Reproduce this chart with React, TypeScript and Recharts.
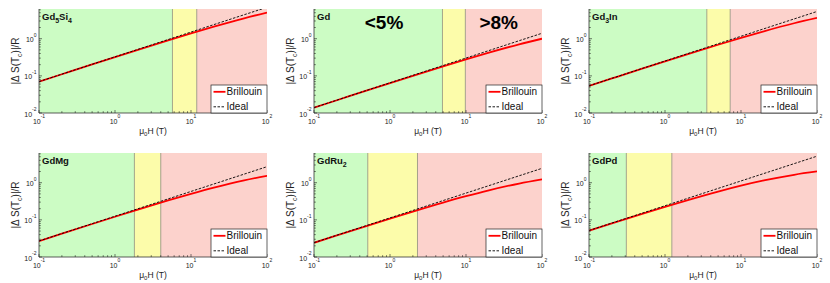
import React from 'react';
import { LineChart, Line, XAxis, YAxis, ReferenceArea, ReferenceLine } from 'recharts';

// ---------- data ----------
const fieldT = [0.1, 0.2, 0.5, 1, 2, 5, 10, 20, 50, 100];

const gd5si4Brillouin = [0.0697, 0.1104, 0.2025, 0.3193, 0.5016, 0.9031, 1.393, 2.116, 3.549, 5.054];
const gd5si4Ideal = [0.07, 0.1111, 0.2048, 0.325, 0.5158, 0.9503, 1.509, 2.395, 4.41, 7.0];
const gd5si4Bands = [5.7, 11.9];

const gdBrillouin = [0.01394, 0.02206, 0.04052, 0.06381, 0.1002, 0.1803, 0.2777, 0.4212, 0.7044, 0.9997];
const gdIdeal = [0.014, 0.0222, 0.041, 0.065, 0.1032, 0.1901, 0.3017, 0.4789, 0.8821, 1.4];
const gdBands = [4.9, 9.8];

const gd3inBrillouin = [0.05374, 0.08504, 0.1557, 0.2452, 0.3841, 0.6877, 1.0534, 1.584, 2.605, 3.634];
const gd3inIdeal = [0.054, 0.0857, 0.1579, 0.2507, 0.3979, 0.7331, 1.1637, 1.8472, 3.402, 5.4];
const gd3inBands = [3.55, 7.2];

const gdmgBrillouin = [0.02679, 0.04234, 0.07723, 0.1211, 0.1884, 0.3323, 0.5002, 0.7336, 1.1519, 1.5373];
const gdmgIdeal = [0.02699, 0.04285, 0.07894, 0.1253, 0.1989, 0.3664, 0.5816, 0.9232, 1.7003, 2.699];
const gdmgBands = [1.8, 4.0];

const gdru2Brillouin = [0.02411, 0.03806, 0.06922, 0.1081, 0.1673, 0.2918, 0.4335, 0.6246, 0.9504, 1.2333];
const gdru2Ideal = [0.02434, 0.03865, 0.07119, 0.113, 0.1793, 0.3304, 0.5245, 0.8326, 1.5334, 2.434];
const gdru2Bands = [0.51, 2.3];

const gdpdBrillouin = [0.0509, 0.08008, 0.14453, 0.22363, 0.34125, 0.5781, 0.8315, 1.1488, 1.6339, 2.0063];
const gdpdIdeal = [0.0517, 0.08208, 0.1512, 0.24, 0.3809, 0.7018, 1.1141, 1.7683, 3.2568, 5.17];
const gdpdBands = [0.31, 1.23];

const xTicks = [0.1, 0.2, 0.3, 0.4, 0.5, 0.6, 0.7, 0.8, 0.9, 1, 2, 3, 4, 5, 6, 7, 8, 9, 10, 20, 30, 40, 50, 60, 70, 80, 90, 100];
const yTicks = [0.01, 0.02, 0.03, 0.04, 0.05, 0.06, 0.07, 0.08, 0.09, 0.1, 0.2, 0.3, 0.4, 0.5, 0.6, 0.7, 0.8, 0.9, 1, 2, 3, 4, 5, 6];
const xMajor = [0.1, 1, 10, 100];
const xMajorLabels = ['-1', '0', '1', '2'];
const yMajor = [0.01, 0.1, 1];
const yMajorLabels = ['-2', '-1', '0'];
const xDomain = [0.1, 100];
const yDomain = [0.01, 6.3];

const seriesNames = ['Brillouin', 'Ideal'];

// ---------- layout ----------
const FONT = '"Liberation Sans", Arial, Helvetica, sans-serif';
const colChartLeft = [0, 275, 550];
const colChartWidth = [275, 275, 280];
const colPlotLeft = [39, 314, 589];
const colPlotRight = [267, 542, 817];
const rowChartTop = [0, 141];
const rowChartHeight = [141, 142];
const rowPlotTop = [9, 153];
const rowPlotBottom = [113, 257];

type Part = { t: string; sub?: boolean };

const panels: { name: Part[]; b: number[]; i: number[]; bands: number[]; row: number; col: number }[] = [
  { name: [{ t: 'Gd' }, { t: '5', sub: true }, { t: 'Si' }, { t: '4', sub: true }], b: gd5si4Brillouin, i: gd5si4Ideal, bands: gd5si4Bands, row: 0, col: 0 },
  { name: [{ t: 'Gd' }], b: gdBrillouin, i: gdIdeal, bands: gdBands, row: 0, col: 1 },
  { name: [{ t: 'Gd' }, { t: '3', sub: true }, { t: 'In' }], b: gd3inBrillouin, i: gd3inIdeal, bands: gd3inBands, row: 0, col: 2 },
  { name: [{ t: 'GdMg' }], b: gdmgBrillouin, i: gdmgIdeal, bands: gdmgBands, row: 1, col: 0 },
  { name: [{ t: 'GdRu' }, { t: '2', sub: true }], b: gdru2Brillouin, i: gdru2Ideal, bands: gdru2Bands, row: 1, col: 1 },
  { name: [{ t: 'GdPd' }], b: gdpdBrillouin, i: gdpdIdeal, bands: gdpdBands, row: 1, col: 2 },
];

const TICK_COLOR = '#222';

const BottomTick = (props: any) => {
  const { x, y, payload } = props;
  const idx = xMajor.indexOf(payload.value);
  const major = idx >= 0;
  return (
    <g>
      <line x1={x} x2={x} y1={y} y2={y - (major ? 3 : 1.8)} stroke={TICK_COLOR} strokeWidth={0.6} />
      {major && (
        <text x={x} y={y + 10.5} textAnchor="middle" fontSize={7} fill={TICK_COLOR} fontFamily={FONT}>
          10<tspan dy={-5.5} fontSize={5}>{xMajorLabels[idx]}</tspan>
        </text>
      )}
    </g>
  );
};

const TopTick = (props: any) => {
  const { x, y, payload } = props;
  const major = xMajor.indexOf(payload.value) >= 0;
  return <line x1={x} x2={x} y1={y} y2={y + (major ? 3 : 1.8)} stroke={TICK_COLOR} strokeWidth={0.6} />;
};

const LeftTick = (props: any) => {
  const { x, y, payload } = props;
  const idx = yMajor.indexOf(payload.value);
  const major = idx >= 0;
  return (
    <g>
      <line x1={x} x2={x + (major ? 3 : 1.8)} y1={y} y2={y} stroke={TICK_COLOR} strokeWidth={0.6} />
      {major && (
        <text x={x - 2.5} y={y + 3.5} textAnchor="end" fontSize={7} fill={TICK_COLOR} fontFamily={FONT}>
          10<tspan dy={-5.5} fontSize={5}>{yMajorLabels[idx]}</tspan>
        </text>
      )}
    </g>
  );
};

const RightTick = (props: any) => {
  const { x, y, payload } = props;
  const major = yMajor.indexOf(payload.value) >= 0;
  return <line x1={x} x2={x - (major ? 3 : 1.8)} y1={y} y2={y} stroke={TICK_COLOR} strokeWidth={0.6} />;
};

const GREEN = '#ccfcc4';
const YELLOW = '#fcfcaa';
const PINK = '#fcd2cc';
const BAND_EDGE = '#8f8f7a';

function Panel({ p }: { p: (typeof panels)[number] }) {
  const data = fieldT.map((h, k) => ({ h, brillouin: p.b[k], ideal: p.i[k] }));
  const left = colChartLeft[p.col];
  const width = colChartWidth[p.col];
  const top = rowChartTop[p.row];
  const height = rowChartHeight[p.row];
  const mt = rowPlotTop[p.row] - top;
  const mr = left + width - colPlotRight[p.col];
  const xh = top + height - rowPlotBottom[p.row];
  const axisLine = { stroke: '#333', strokeWidth: 0.8 };
  return (
    <div style={{ position: 'absolute', left, top, width, height }}>
      <LineChart width={width} height={height} data={data} margin={{ top: mt, right: mr, bottom: 0, left: 0 }}>
        <XAxis xAxisId="b" dataKey="h" type="number" scale="log" domain={xDomain} allowDataOverflow ticks={xTicks}
          interval={0} tickSize={0} tickMargin={0} tickLine={false} tick={<BottomTick />} axisLine={axisLine} height={xh} orientation="bottom" />
        <XAxis xAxisId="t" dataKey="h" type="number" scale="log" domain={xDomain} allowDataOverflow ticks={xTicks}
          interval={0} tickSize={0} tickMargin={0} tickLine={false} tick={<TopTick />} axisLine={axisLine} height={0} orientation="top" />
        <YAxis yAxisId="l" type="number" scale="log" domain={yDomain} allowDataOverflow ticks={yTicks}
          interval={0} tickSize={0} tickMargin={0} tickLine={false} tick={<LeftTick />} axisLine={axisLine} width={39} orientation="left" />
        <YAxis yAxisId="r" type="number" scale="log" domain={yDomain} allowDataOverflow ticks={yTicks}
          interval={0} tickSize={0} tickMargin={0} tickLine={false} tick={<RightTick />} axisLine={axisLine} width={0} orientation="right" />
        <ReferenceArea xAxisId="b" yAxisId="l" x1={xDomain[0]} x2={p.bands[0]} fill={GREEN} fillOpacity={1} stroke="none" ifOverflow="hidden" />
        <ReferenceArea xAxisId="b" yAxisId="l" x1={p.bands[0]} x2={p.bands[1]} fill={YELLOW} fillOpacity={1} stroke="none" ifOverflow="hidden" />
        <ReferenceArea xAxisId="b" yAxisId="l" x1={p.bands[1]} x2={xDomain[1]} fill={PINK} fillOpacity={1} stroke="none" ifOverflow="hidden" />
        <ReferenceLine xAxisId="b" yAxisId="l" x={p.bands[0]} stroke={BAND_EDGE} strokeWidth={0.8} />
        <ReferenceLine xAxisId="b" yAxisId="l" x={p.bands[1]} stroke={BAND_EDGE} strokeWidth={0.8} />
        <Line xAxisId="b" yAxisId="l" dataKey="brillouin" name={seriesNames[0]} type="monotone" stroke="#ff0000" strokeWidth={1.8} dot={false} isAnimationActive={false} />
        <Line xAxisId="b" yAxisId="l" dataKey="ideal" name={seriesNames[1]} type="linear" stroke="#000" strokeWidth={0.9} strokeDasharray="2.5 1.5" dot={false} isAnimationActive={false} />
      </LineChart>
    </div>
  );
}

function Overlay() {
  return (
    <svg width={830} height={283} style={{ position: 'absolute', left: 0, top: 0, pointerEvents: 'none' }} fontFamily={FONT}>
      {panels.map((p, k) => {
        const pl = colPlotLeft[p.col];
        const pr = colPlotRight[p.col];
        const pt = rowPlotTop[p.row];
        const pb = rowPlotBottom[p.row];
        const cy = (pt + pb) / 2;
        const lx = pr - 56;
        const ly = pb - 28;
        return (
          <g key={k}>
            <text x={pl + 3} y={pt + 11} fontSize={9.5} fontWeight="bold" fill="#111">
              {p.name.map((s, j) => (
                <tspan key={j} fontSize={s.sub ? 7 : 9.5} dy={s.sub ? 2.5 : j > 0 && p.name[j - 1].sub ? -2.5 : 0}>{s.t}</tspan>
              ))}
            </text>
            <text transform={`translate(${pl - 20},${cy}) rotate(-90)`} textAnchor="middle" fontSize={10} fill="#222">
              |Δ S(T<tspan fontSize={7} dy={2.5}>c</tspan><tspan dy={-2.5}>)|/R</tspan>
            </text>
            <text x={(pl + pr) / 2} y={pb + 20.5} textAnchor="middle" fontSize={8.5} fill="#222">
              μ<tspan fontSize={6} dy={2}>0</tspan><tspan dy={-2}>H (T)</tspan>
            </text>
            <rect x={lx} y={ly} width={56} height={28} fill="#fff" stroke="#222" strokeWidth={0.7} />
            <line x1={lx + 2.5} x2={lx + 14.5} y1={ly + 6.8} y2={ly + 6.8} stroke="#ff0000" strokeWidth={1.8} />
            <text x={lx + 15.5} y={ly + 10.3} fontSize={10} fill="#111">{seriesNames[0]}</text>
            <line x1={lx + 2.5} x2={lx + 14.5} y1={ly + 21.8} y2={ly + 21.8} stroke="#000" strokeWidth={0.9} strokeDasharray="2.5 1.5" />
            <text x={lx + 15.5} y={ly + 25.3} fontSize={10} fill="#111">{seriesNames[1]}</text>
          </g>
        );
      })}
      <text x={384} y={29.3} textAnchor="middle" fontSize={19} fontWeight="bold" fill="#000">&lt;5%</text>
      <text x={498.7} y={29.3} textAnchor="middle" fontSize={19} fontWeight="bold" fill="#000">&gt;8%</text>
    </svg>
  );
}

export default function App() {
  return (
    <div style={{ position: 'fixed', left: 0, top: 0, width: 830, height: 283, background: '#fff', overflow: 'hidden', fontFamily: FONT }}>
      {panels.map((p, k) => (
        <Panel key={k} p={p} />
      ))}
      <Overlay />
    </div>
  );
}
